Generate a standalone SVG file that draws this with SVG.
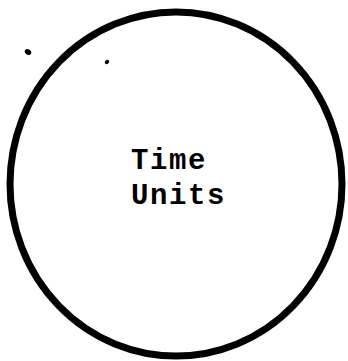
<svg xmlns="http://www.w3.org/2000/svg" width="348" height="361" viewBox="0 0 348 361">
<style>
.ring{fill:none;stroke:#000;stroke-width:7}
.lbl{font-family:"Liberation Mono","Courier New",monospace;font-size:29px;font-weight:bold;letter-spacing:1.6px;fill:#000}
</style>
<rect width="348" height="361" fill="#fff"/>
<g id="circle">
<ellipse class="ring" cx="176" cy="184" rx="166" ry="172"/>
<text class="lbl" x="131" y="169">Time</text>
<text class="lbl" x="131" y="204">Units</text>
</g>
<g id="dots">
<ellipse cx="28" cy="52" rx="3.5" ry="2.6" transform="rotate(35 28 52)"/>
<ellipse cx="107" cy="62" rx="2.4" ry="1.9" transform="rotate(-40 107 62)"/>
</g>
</svg>
